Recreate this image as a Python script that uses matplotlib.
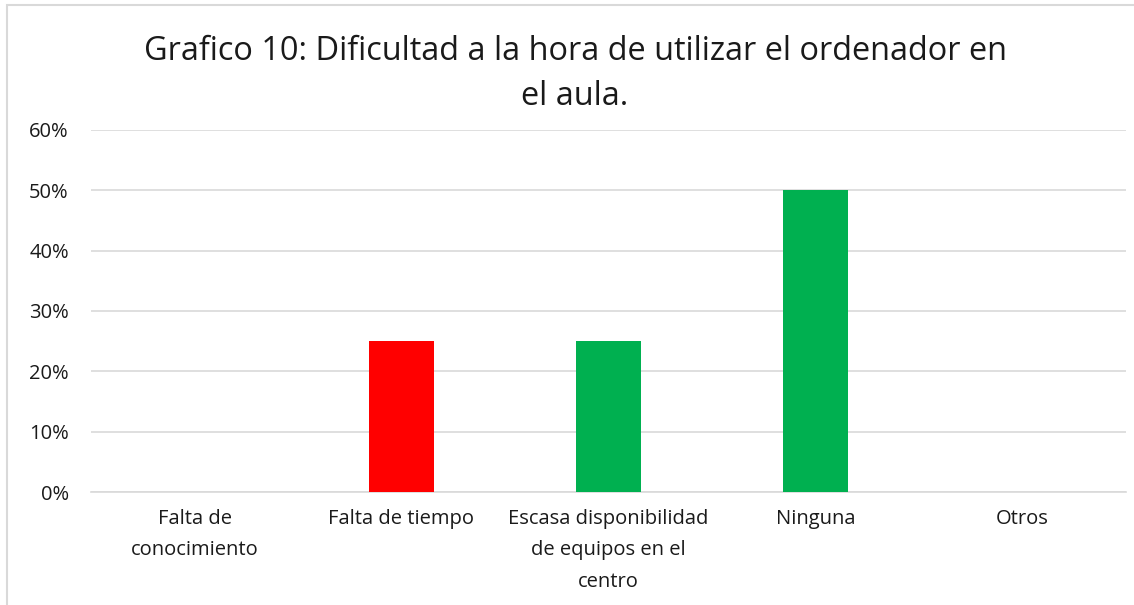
import matplotlib
matplotlib.use("Agg")
import matplotlib.pyplot as plt
from matplotlib.patches import Rectangle
from matplotlib.ticker import FuncFormatter

categories = ["Falta de\nconocimiento", "Falta de tiempo",
              "Escasa disponibilidad\nde equipos en el\ncentro", "Ninguna", "Otros"]
values = [0.0, 0.25, 0.25, 0.50, 0.0]
colors = ["#00b050", "#ff0000", "#00b050", "#00b050", "#00b050"]
yticks = [0, 0.1, 0.2, 0.3, 0.4, 0.5, 0.6]
title = "Grafico 10: Dificultad a la hora de utilizar el ordenador en\nel aula."

plt.rcParams['font.family'] = ['Open Sans', 'DejaVu Sans']

fig = plt.figure(figsize=(11.34, 6.05), dpi=100)
fig.patch.set_facecolor("white")
fig.patches.append(Rectangle((7/1134, -0.1), 1.2, (1 - 5/605) + 0.1,
                             transform=fig.transFigure, fill=False,
                             edgecolor="#d9d9d9", linewidth=1.5))

ax = fig.add_axes([91/1134, 1 - 492/605, (1126 - 91)/1134, (492 - 130)/605])
x = list(range(len(categories)))
ax.bar(x, values, width=0.315, color=colors, zorder=3)
ax.set_xlim(-0.5, len(categories) - 0.5)
ax.set_ylim(0, 0.6)
ax.set_yticks(yticks)
ax.yaxis.set_major_formatter(FuncFormatter(lambda v, p: f"{v*100:.0f}%"))
ax.set_xticks(x)
ax.set_xticklabels(categories, fontsize=14.5, color="#1a1a1a", linespacing=1.78)
ax.tick_params(axis='y', labelsize=14.5, colors="#1a1a1a", length=0, pad=16)
ax.tick_params(axis='x', length=0, pad=12)
ax.grid(axis='y', color="#d9d9d9", linewidth=1.2, zorder=0)
for s in ["top", "right", "left"]:
    ax.spines[s].set_visible(False)
ax.spines["bottom"].set_color("#d9d9d9")
ax.spines["bottom"].set_linewidth(1.2)

fig.text(575/1134, 1 - 74/605, title, ha="center", va="center",
         fontsize=23.4, color="#1a1a1a", linespacing=1.5)

fig.savefig("out.png", dpi=100)
